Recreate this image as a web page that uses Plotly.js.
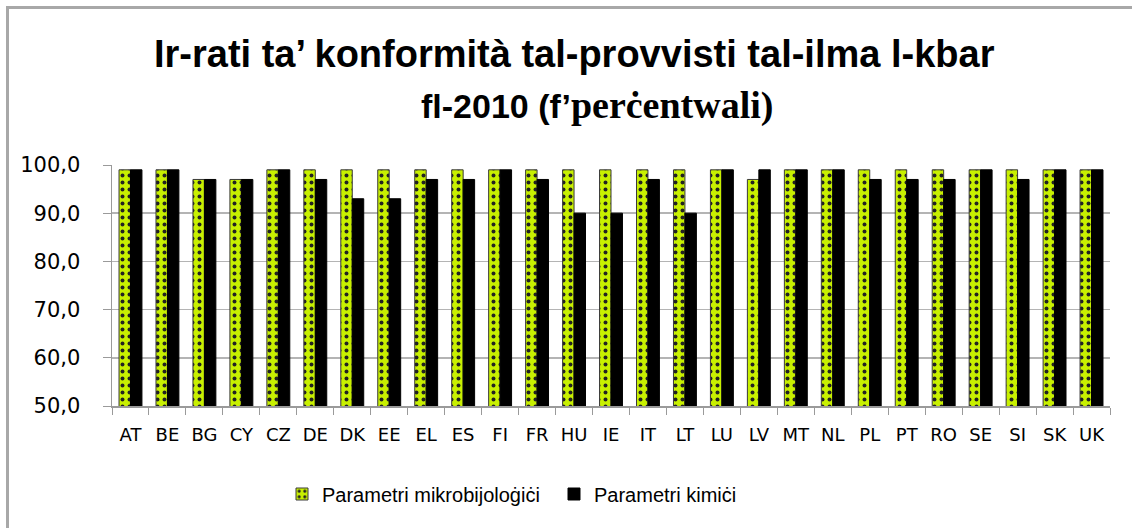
<!DOCTYPE html>
<html>
<head>
<meta charset="utf-8">
<script src="https://cdn.plot.ly/plotly-3.0.1.min.js"></script>
<style>html,body{margin:0;padding:0;background:#fff;}#chart{width:1132px;height:528px;}</style>
</head>
<body>
<div id="chart"></div>
<script>
const countries = ["AT","BE","BG","CY","CZ","DE","DK","EE","EL","ES","FI","FR","HU","IE","IT","LT","LU","LV","MT","NL","PL","PT","RO","SE","SI","SK","UK"];
const microbiological = [99,99,97,97,99,99,99,99,99,99,99,99,99,99,99,99,99,97,99,99,99,99,99,99,99,99,99];
const chemical = [99,99,97,97,99,97,93,93,97,97,99,97,90,90,97,90,99,99,99,99,97,97,97,99,97,99,99];
const seriesNames = ["Parametri mikrobijoloġiċi","Parametri kimiċi"];
const titleLine1 = "Ir-rati ta’ konformità tal-provvisti tal-ilma l-kbar";
const titleLine2a = "fl-2010 (f’";
const titleLine2b = "perċentwali)";
const yTicks = [50,60,70,80,90,100];

const L = 112, R = 22, T = 165, B = 122;
const W = 1132 - L - R, H = 528 - T - B;
const px = x => (x - L) / W;
const py = y => (528 - B - y) / H;

const traces = [
  {type:"bar", x:countries, y:microbiological, name:seriesNames[0],
   marker:{color:"#c8f000", line:{color:"#3a3a3a", width:1},
           pattern:{shape:".", fgcolor:"#222", bgcolor:"#c8f000", size:7, solidity:0.25}}},
  {type:"bar", x:countries, y:chemical, name:seriesNames[1],
   marker:{color:"#000000", line:{color:"#000", width:1}}}
];

const layout = {
  width:1132, height:528,
  margin:{l:L, r:R, t:T, b:B, pad:0},
  paper_bgcolor:"#fff", plot_bgcolor:"#fff",
  separators:",.",
  barmode:"group", bargap:0.38, bargroupgap:0,
  showlegend:true,
  legend:{orientation:"h", x:px(282), xanchor:"left", y:py(494), yanchor:"middle",
          font:{family:"Liberation Sans", size:20, color:"#000"}, itemwidth:20,
          entrywidth:227, entrywidthmode:"pixels"},
  xaxis:{type:"category", showline:true, linecolor:"#9a9a9a", linewidth:1.5, tickangle:0,
         ticks:"outside", tickson:"boundaries", ticklen:7, tickcolor:"#9a9a9a", ticklabelstandoff:12,
         tickfont:{family:"DejaVu Sans", size:18, color:"#000"}, showgrid:false, fixedrange:true},
  yaxis:{range:[50,100], tickvals:yTicks, tickformat:".1f", showline:true, linecolor:"#9a9a9a", linewidth:1.5,
         ticks:"outside", ticklen:8, tickcolor:"#9a9a9a", gridcolor:"#b4b4b4", gridwidth:1.5, ticklabelstandoff:18,
         tickfont:{family:"DejaVu Sans", size:21, color:"#000"}, zeroline:false, fixedrange:true},
  annotations:[
    {xref:"paper", yref:"paper", x:px(574), y:py(54), xanchor:"center", yanchor:"middle", showarrow:false,
     text:"<b>"+titleLine1+"</b>", font:{family:"Liberation Sans", weight:"bold", size:38, color:"#000"}},
    {xref:"paper", yref:"paper", x:px(597), y:py(105), xanchor:"center", yanchor:"middle", showarrow:false,
     text:"<b>"+titleLine2a+"<span style='font-family:Liberation Serif;font-size:38px'>"+titleLine2b+"</span></b>",
     font:{family:"Liberation Sans", weight:"bold", size:34, color:"#000"}}
  ],
  shapes:[
    {type:"rect", xref:"paper", yref:"paper", x0:px(7.5), x1:px(1300), y0:py(7.5), y1:py(700),
     line:{color:"#a8a8a8", width:3}, fillcolor:"rgba(0,0,0,0)", layer:"below"}
  ]
};

Plotly.newPlot("chart", traces, layout, {displayModeBar:false, staticPlot:true});
</script>
</body>
</html>
